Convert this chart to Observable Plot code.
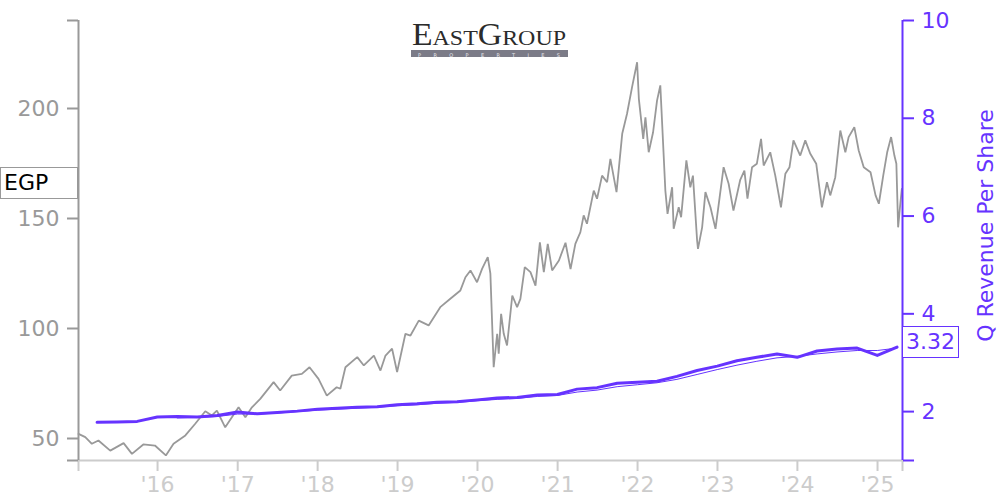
<!DOCTYPE html>
<html>
<head>
<meta charset="utf-8">
<script src="https://cdn.jsdelivr.net/npm/d3@7"></script>
<script src="https://cdn.jsdelivr.net/npm/@observablehq/plot@0.6"></script>
<style>
  body { margin: 0; background: #fff; }
  #wrap { position: relative; width: 1000px; height: 500px; font-family: "DejaVu Sans", sans-serif; }
  #wrap > svg, #wrap > .overlay { position: absolute; left: 0; top: 0; }
  .tag { position: absolute; box-sizing: border-box; height: 32px; font-size: 22px; line-height: 29px; padding-left: 3px; background: #fff; white-space: nowrap; }
</style>
</head>
<body>
<div id="wrap"></div>
<script>
// ---------- data ----------
const ticker = "EGP";
const rightLabel = "Q Revenue Per Share";
const lastRevenueLabel = "3.32";

const priceDates = ["2015-01-05","2015-02-05","2015-03-07","2015-04-06","2015-05-30","2015-07-30","2015-09-06","2015-10-28","2015-12-20","2016-02-08","2016-03-14","2016-05-07","2016-06-21","2016-08-06","2016-09-05","2016-09-28","2016-11-05","2017-01-05","2017-02-05","2017-03-07","2017-04-14","2017-06-14","2017-07-14","2017-09-05","2017-10-21","2017-11-25","2018-01-05","2018-02-12","2018-03-29","2018-04-15","2018-05-08","2018-07-01","2018-07-31","2018-09-15","2018-10-15","2018-11-07","2018-12-07","2018-12-30","2019-02-06","2019-03-01","2019-04-08","2019-05-23","2019-07-15","2019-08-30","2019-10-15","2019-11-07","2019-11-30","2019-12-30","2020-01-22","2020-02-17","2020-02-29","2020-03-15","2020-03-31","2020-04-07","2020-04-18","2020-04-30","2020-05-15","2020-06-08","2020-06-30","2020-07-15","2020-08-04","2020-08-30","2020-09-22","2020-10-12","2020-10-30","2020-11-17","2020-12-07","2021-01-07","2021-02-06","2021-03-01","2021-03-23","2021-04-15","2021-04-30","2021-05-15","2021-06-15","2021-06-30","2021-07-23","2021-08-15","2021-08-30","2021-09-27","2021-10-23","2021-11-14","2021-12-07","2021-12-30","2022-01-07","2022-01-27","2022-02-06","2022-02-21","2022-03-13","2022-03-31","2022-04-15","2022-04-22","2022-05-08","2022-05-18","2022-06-08","2022-06-15","2022-07-08","2022-07-19","2022-08-12","2022-08-30","2022-09-11","2022-09-30","2022-10-04","2022-10-23","2022-11-07","2022-11-30","2022-12-23","2023-01-11","2023-01-29","2023-02-21","2023-03-15","2023-04-15","2023-05-04","2023-05-18","2023-06-08","2023-06-30","2023-07-19","2023-07-31","2023-08-30","2023-09-22","2023-10-18","2023-11-07","2023-11-26","2023-12-14","2024-01-14","2024-02-06","2024-02-29","2024-03-27","2024-04-22","2024-05-15","2024-05-30","2024-06-22","2024-07-15","2024-08-07","2024-08-22","2024-09-17","2024-10-07","2024-10-30","2024-11-30","2024-12-23","2025-01-07","2025-01-27","2025-02-14","2025-03-04","2025-03-19","2025-03-28","2025-04-05","2025-04-15","2025-04-22"];
const priceValues = [52.1,50.6,47.6,49.1,44.5,47.9,43.0,47.3,46.8,42.3,47.6,51.4,56.7,62.4,60.5,62.7,55.1,64.2,59.7,64.2,68.0,75.6,71.8,78.6,79.4,82.4,77.1,69.5,73.3,72.6,82.4,87.0,83.2,87.7,80.9,87.7,90.8,80.2,97.6,96.8,103.6,101.4,109.7,113.5,117.3,123.3,126.4,121.0,127.1,132.4,124.9,82.4,97.6,88.5,106.7,97.6,92.3,115.0,109.7,113.5,127.9,125.6,119.5,139.2,125.6,138.5,126.4,130.9,139.0,127.0,138.5,143.8,151.4,147.6,162.7,159.0,169.5,166.5,177.1,162.0,188.5,197.6,209.7,221.0,204.4,186.2,196.0,180.1,189.2,203.6,210.5,196.0,162.7,152.1,164.2,145.3,155.1,150.6,176.4,164.2,169.5,140.0,136.2,146.0,162.0,155.1,145.3,159.7,173.3,165.8,153.6,167.6,171.8,159.0,173.3,174.9,186.2,174.1,180.1,169.5,155.1,170.3,173.3,185.5,178.6,185.5,179.4,174.9,155.1,166.5,160.5,168.8,190.0,180.1,187.0,191.5,180.9,173.3,171.0,160.5,156.7,169.5,180.1,187.0,178.6,174.9,146.0,156.7,163.5];

const quarterDates = ["2015-03-31","2015-06-30","2015-09-30","2015-12-31","2016-03-31","2016-06-30","2016-09-30","2016-12-31","2017-03-31","2017-06-30","2017-09-30","2017-12-31","2018-03-31","2018-06-30","2018-09-30","2018-12-31","2019-03-31","2019-06-30","2019-09-30","2019-12-31","2020-03-31","2020-06-30","2020-09-30","2020-12-31","2021-03-31","2021-06-30","2021-09-30","2021-12-31","2022-03-31","2022-06-30","2022-09-30","2022-12-31","2023-03-31","2023-06-30","2023-09-30","2023-12-31","2024-03-31","2024-06-30","2024-09-30","2024-12-31","2025-03-31"];
const revenuePerShare = [1.78,1.79,1.80,1.89,1.90,1.89,1.92,1.99,1.955,1.98,2.01,2.05,2.07,2.09,2.10,2.14,2.16,2.19,2.20,2.24,2.28,2.29,2.34,2.35,2.46,2.49,2.58,2.60,2.62,2.72,2.84,2.93,3.04,3.11,3.18,3.11,3.24,3.28,3.30,3.15,3.32];
// thin (averaged) series starts at the 5th quarter
const revenueAvgStart = 4;
const revenuePerShareAvg = [1.87,1.88,1.90,1.95,1.95,1.97,2.00,2.03,2.05,2.07,2.09,2.12,2.14,2.17,2.19,2.22,2.25,2.27,2.31,2.33,2.40,2.44,2.51,2.55,2.59,2.66,2.76,2.86,2.95,3.03,3.10,3.13,3.18,3.22,3.25,3.25,3.30];

const tickYears = [2016,2017,2018,2019,2020,2021,2022,2023,2024,2025];
const leftTicks = [50,100,150,200];
const rightTicks = [2,4,6,8,10];
const leftDomain = [40,240];
const rightDomain = [1,10];
const xStart = "2015-01-05", xEnd = "2025-04-25";

// ---------- build ----------
const PURPLE = "#6633ff";
const GRAY = "#999999";
const LIGHT = "#cccccc";
const parse = s => new Date(s + "T00:00:00Z");
const price = priceDates.map((d, i) => ({date: parse(d), value: priceValues[i]}));
const rev = quarterDates.map((d, i) => ({date: parse(d), value: revenuePerShare[i]}));
const revAvg = revenuePerShareAvg.map((v, i) => ({date: parse(quarterDates[i + revenueAvgStart]), value: v}));
const x0 = parse(xStart), x1 = parse(xEnd);
const xTicks = [x0, ...tickYears.map(y => new Date(Date.UTC(y, 0, 1))), x1];
const xFmt = d => (+d === +x0 || +d === +x1) ? "" : "'" + String(d.getUTCFullYear()).slice(2);

const common = {
  width: 1000, height: 500,
  marginLeft: 78, marginRight: 98, marginTop: 20, marginBottom: 40,
  style: {fontFamily: "DejaVu Sans, sans-serif", fontSize: "22px", background: "transparent", overflow: "visible"}
};

const plotPrice = Plot.plot({
  ...common,
  x: {type: "utc", domain: [x0, x1], label: null},
  y: {domain: leftDomain, label: null},
  marks: [
    Plot.ruleY([leftDomain[0]], {stroke: LIGHT, strokeWidth: 2}),
    Plot.axisX({ticks: xTicks, tickFormat: xFmt, tickSize: 11, tickPadding: 5, stroke: LIGHT, fill: LIGHT, strokeWidth: 2, fontSize: 22, label: null}),
    Plot.line(price, {x: "date", y: "value", stroke: GRAY, strokeWidth: 1.8, strokeLinejoin: "miter"}),
    Plot.ruleX([x0], {stroke: GRAY, strokeWidth: 2}),
    Plot.axisY({ticks: [leftDomain[0], ...leftTicks, leftDomain[1]], tickFormat: d => (d === leftDomain[0] || d === leftDomain[1]) ? "" : d, tickSize: 11, tickPadding: 8, stroke: GRAY, fill: GRAY, strokeWidth: 2, fontSize: 22, label: null})
  ]
});

const plotRev = Plot.plot({
  ...common,
  x: {type: "utc", domain: [x0, x1], label: null, axis: null},
  y: {domain: rightDomain, label: null},
  marks: [
    Plot.line(revAvg, {x: "date", y: "value", stroke: PURPLE, strokeWidth: 1}),
    Plot.line(rev, {x: "date", y: "value", stroke: PURPLE, strokeWidth: 3}),
    Plot.ruleX([x1], {stroke: PURPLE, strokeWidth: 2}),
    Plot.axisY({anchor: "right", ticks: [rightDomain[0], ...rightTicks], tickFormat: d => d === rightDomain[0] ? "" : d, tickSize: 11, tickPadding: 8, stroke: PURPLE, fill: PURPLE, strokeWidth: 2, fontSize: 22, label: null}),
    Plot.text([rightLabel], {text: d => d, frameAnchor: "right", rotate: -90, dx: 83, dy: -15, fontSize: 22, fill: PURPLE, textAnchor: "middle"})
  ]
});

const wrap = document.getElementById("wrap");
wrap.appendChild(plotPrice);
wrap.appendChild(plotRev);

// value tags positioned through the plots' own scales
const yP = plotPrice.scale("y"), yR = plotRev.scale("y");
const lastPrice = price[price.length - 1].value;
const lastRev = rev[rev.length - 1].value;

const tagL = document.createElement("div");
tagL.className = "tag";
tagL.textContent = ticker;
Object.assign(tagL.style, {left: "0px", width: "78px", top: (yP.apply(lastPrice) - 21) + "px", border: "1.5px solid " + GRAY, color: "#000"});
wrap.appendChild(tagL);

const tagR = document.createElement("div");
tagR.className = "tag";
tagR.textContent = lastRevenueLabel;
Object.assign(tagR.style, {left: "902px", width: "57px", top: (yR.apply(lastRev) - 21) + "px", border: "1.5px solid " + PURPLE, color: PURPLE});
wrap.appendChild(tagR);

// logo
const ns = "http://www.w3.org/2000/svg";
const logo = document.createElementNS(ns, "svg");
logo.setAttribute("class", "overlay");
logo.setAttribute("width", "1000");
logo.setAttribute("height", "80");
logo.innerHTML = `
  <text x="412" y="45" fill="#2b2b2b" font-family="Liberation Serif, DejaVu Serif, serif" textLength="154" lengthAdjust="spacingAndGlyphs"><tspan font-size="31">E</tspan><tspan font-size="22">AST</tspan><tspan font-size="31">G</tspan><tspan font-size="22">ROUP</tspan></text>
  <rect x="411" y="50" width="157" height="7" fill="#7b7b87"></rect>
  <text x="418" y="56.6" fill="#e8e8ee" font-family="DejaVu Sans, sans-serif" font-size="5" textLength="142" lengthAdjust="spacing">PROPERTIES</text>`;
wrap.appendChild(logo);
</script>
</body>
</html>
